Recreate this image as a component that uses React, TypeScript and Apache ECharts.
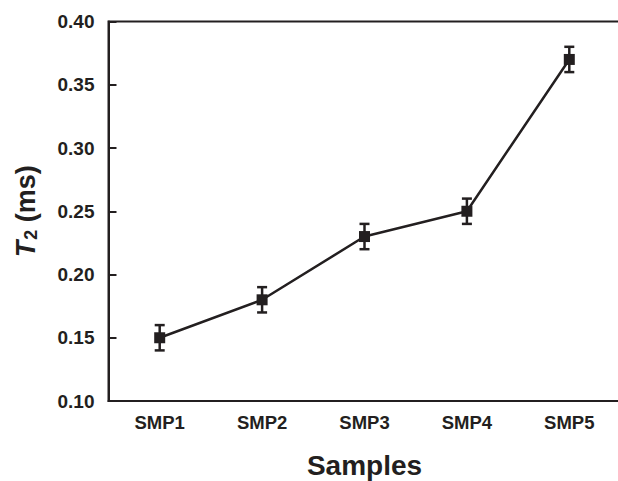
import React, { useEffect, useRef } from "react";
import * as echarts from "echarts";

const categories = ["SMP1", "SMP2", "SMP3", "SMP4", "SMP5"];
const t2Values = [0.15, 0.18, 0.23, 0.25, 0.37];
const t2Errors = [0.01, 0.01, 0.01, 0.01, 0.01];
const yTicks = { min: 0.1, max: 0.4, interval: 0.05 };

const INK = "#231f20";
const FONT = "'Liberation Sans', Arial, Helvetica, sans-serif";

export default function App() {
  const ref = useRef<HTMLDivElement>(null);

  useEffect(() => {
    if (!ref.current) return;
    const chart = echarts.init(ref.current, undefined, { renderer: "svg" });
    const errData = categories.map((_, i) => [i, t2Values[i], t2Errors[i]]);
    chart.setOption({
      animation: false,
      backgroundColor: "#ffffff",
      grid: {
        left: 108.5,
        top: 21.5,
        right: -2.5,
        bottom: 80,
        outerBoundsMode: "none",
        containLabel: false,
        show: true,
        borderColor: INK,
        borderWidth: 2,
        backgroundColor: "transparent",
      },
      xAxis: {
        type: "category",
        data: categories,
        boundaryGap: true,
        name: "Samples",
        nameLocation: "middle",
        nameGap: 50,
        nameTextStyle: { fontFamily: FONT, fontWeight: "bold", fontSize: 28, color: INK },
        axisLine: { lineStyle: { color: INK, width: 2 } },
        axisTick: { inside: true, length: 8, alignWithLabel: true, lineStyle: { color: INK, width: 2 } },
        axisLabel: { fontFamily: FONT, fontWeight: "bold", fontSize: 18.5, color: INK, margin: 12 },
        splitLine: { show: false },
      },
      yAxis: {
        type: "value",
        min: yTicks.min,
        max: yTicks.max,
        interval: yTicks.interval,
        name: "{t|T}{s|2}{n| (ms)}",
        nameLocation: "middle",
        nameGap: 69,
        nameRotate: 90,
        nameTextStyle: {
          fontFamily: FONT,
          color: INK,
          rich: {
            t: { fontFamily: FONT, fontWeight: "bold", fontStyle: "italic", fontSize: 27, color: INK },
            s: { fontFamily: FONT, fontWeight: "bold", fontSize: 18, color: INK, padding: [10, 0, 0, 1] },
            n: { fontFamily: FONT, fontWeight: "bold", fontSize: 27, color: INK },
          },
        },
        axisLine: { show: true, lineStyle: { color: INK, width: 2 } },
        axisTick: { show: true, inside: true, length: 8, lineStyle: { color: INK, width: 2 } },
        axisLabel: {
          fontFamily: FONT,
          fontWeight: "bold",
          fontSize: 19,
          color: INK,
          margin: 14,
          formatter: (v: number) => v.toFixed(2),
        },
        splitLine: { show: false },
      },
      series: [
        {
          type: "custom",
          data: errData,
          z: 3,
          renderItem: (params: any, api: any) => {
            const x = api.value(0);
            const v = api.value(1);
            const e = api.value(2);
            const top = api.coord([x, v + e]);
            const bot = api.coord([x, v - e]);
            const hw = 5;
            const style = { stroke: INK, lineWidth: 2.5 };
            return {
              type: "group",
              children: [
                { type: "line", shape: { x1: top[0], y1: top[1], x2: bot[0], y2: bot[1] }, style },
                { type: "line", shape: { x1: top[0] - hw, y1: top[1], x2: top[0] + hw, y2: top[1] }, style },
                { type: "line", shape: { x1: bot[0] - hw, y1: bot[1], x2: bot[0] + hw, y2: bot[1] }, style },
              ],
            };
          },
        },
        {
          type: "line",
          data: t2Values,
          z: 4,
          symbol: "rect",
          symbolSize: 11,
          itemStyle: { color: INK },
          lineStyle: { color: INK, width: 2.5 },
        },
      ],
    });
    return () => chart.dispose();
  }, []);

  return (
    <div
      ref={ref}
      style={{ position: "absolute", left: 0, top: 0, width: 618, height: 481, background: "#fff" }}
    />
  );
}
